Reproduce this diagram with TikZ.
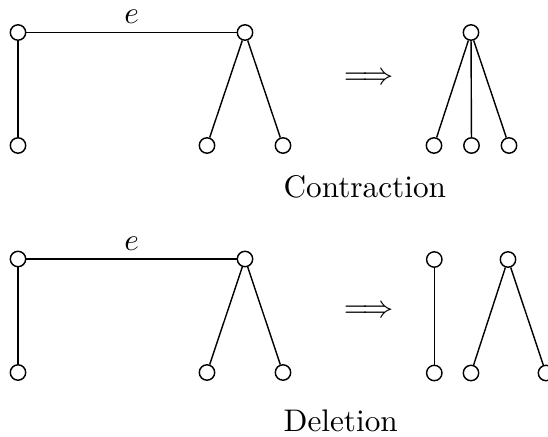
\documentclass[tikz,border=0pt]{standalone}
\begin{document}
\begin{tikzpicture}[x=0.32pt,y=-0.32pt,
  vtx/.style={circle,draw,line width=0.45pt,inner sep=0pt,minimum size=15.4*0.32pt},
  edge/.style={line width=0.45pt},
  lbl/.style={inner sep=0pt,anchor=base}]
\useasboundingbox (0,0) rectangle (548,437);
\clip (0,0) rectangle (548,437);
% top: contraction
\node[vtx] (a1) at (18,32.5) {};
\node[vtx] (a2) at (18,145.5) {};
\node[vtx] (b) at (245,32.5) {};
\node[vtx] (b1) at (207,145.5) {};
\node[vtx] (b2) at (283,145.5) {};
\draw[edge] (a1) -- (a2);
\draw[edge] (a1) -- (b);
\draw[edge] (b) -- (b1);
\draw[edge] (b) -- (b2);
\node[lbl] (e1) at (131.7,24) {$e$};
\node[inner sep=0pt] (arr1) at (369,78.3) {$\Longrightarrow$};
\node[vtx] (c) at (471,32.5) {};
\node[vtx] (c1) at (434,145.5) {};
\node[vtx] (c2) at (471.5,145.5) {};
\node[vtx] (c3) at (509,145.5) {};
\draw[edge] (c) -- (c1);
\draw[edge] (c) -- (c2);
\draw[edge] (c) -- (c3);
\node[inner sep=0pt,anchor=base west] (t1) at (283,198) {Contraction};
% bottom: deletion
\node[vtx] (d1) at (18,259) {};
\node[vtx] (d2) at (18,372.5) {};
\node[vtx] (f) at (245,259) {};
\node[vtx] (f1) at (207,372.5) {};
\node[vtx] (f2) at (283,372.5) {};
\draw[edge] (d1) -- (d2);
\draw[edge] (d1) -- (f);
\draw[edge] (f) -- (f1);
\draw[edge] (f) -- (f2);
\node[lbl] (e2) at (131.7,250.7) {$e$};
\node[inner sep=0pt] (arr2) at (369,311.7) {$\Longrightarrow$};
\node[vtx] (g1) at (434.3,259.5) {};
\node[vtx] (g2) at (434.3,373) {};
\node[vtx] (h) at (508,259.5) {};
\node[vtx] (h1) at (471,373) {};
\node[vtx] (h2) at (546,373) {};
\draw[edge] (g1) -- (g2);
\draw[edge] (h) -- (h1);
\draw[edge] (h) -- (h2);
\node[inner sep=0pt,anchor=base west] (t2) at (283,432) {Deletion};
\end{tikzpicture}
\end{document}
